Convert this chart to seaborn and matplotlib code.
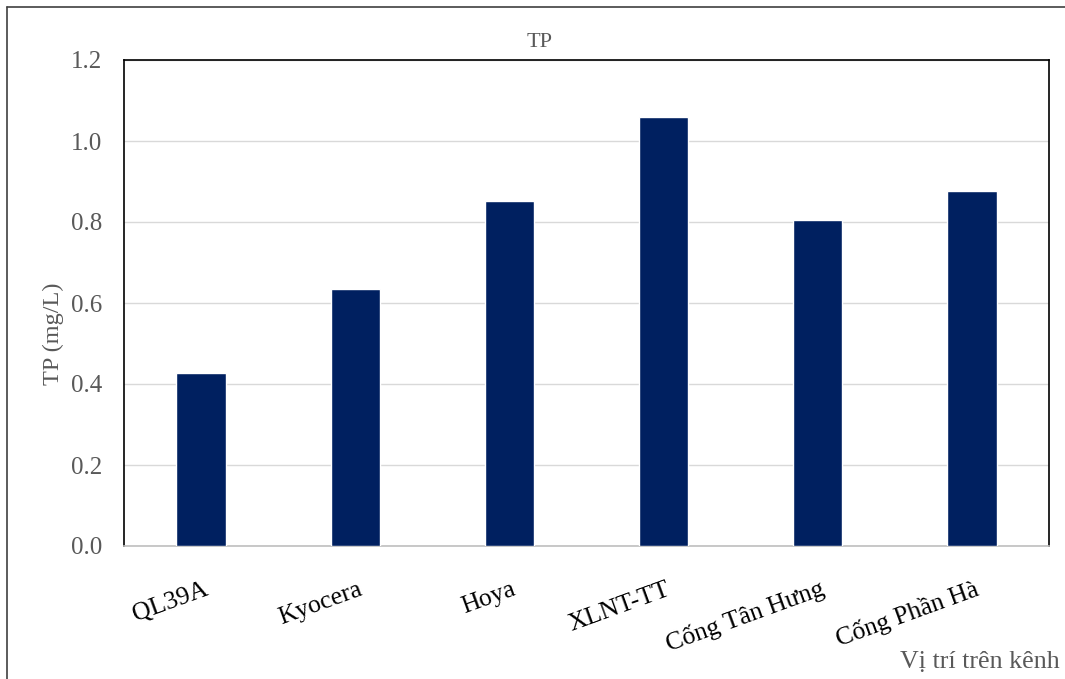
import matplotlib
matplotlib.use("Agg")
import matplotlib.pyplot as plt
import matplotlib.transforms as mtransforms
import seaborn as sns
import pandas as pd
from matplotlib.lines import Line2D

# Total phosphorus measured at each sampling site along the canal
sites = ["QL39A", "Kyocera", "Hoya", "XLNT-TT", "Cống Tân Hưng", "Cống Phần Hà"]
tp_values = [0.427, 0.635, 0.852, 1.059, 0.805, 0.877]
y_ticks = [0.0, 0.2, 0.4, 0.6, 0.8, 1.0, 1.2]

df = pd.DataFrame({"site": sites, "tp": tp_values})

sns.set_theme(style="white")
plt.rcParams["font.family"] = ["Liberation Serif", "DejaVu Serif"]

gray_text = "#595959"
bar_color = "#002060"

W, H = 1065, 679
fig = plt.figure(figsize=(W / 100, H / 100), dpi=100)
ax = fig.add_axes([124 / W, 1 - 546 / H, (1049 - 124) / W, (546 - 60) / H])

sns.barplot(data=df, x="site", y="tp", color=bar_color, width=0.32,
            saturation=1, ax=ax, zorder=3)

ax.set_xlim(-0.5, len(sites) - 0.5)
ax.set_ylim(0, 1.2)
ax.set_yticks(y_ticks)
ax.set_yticklabels([f"{v:.1f}" for v in y_ticks], color=gray_text, fontsize=18)
ax.yaxis.grid(True, color="#D9D9D9", linewidth=1, zorder=0)
ax.tick_params(axis="y", length=0, pad=15.5)
ax.tick_params(axis="x", length=0, pad=35)

ax.set_xticks(range(len(sites)))
ax.set_xticklabels(sites, rotation=20, ha="right", va="baseline",
                   rotation_mode="anchor", fontsize=18.5, color="black")
# nudge the rotated category labels a little to the right
shift = mtransforms.ScaledTranslation(8 / 100, 0, fig.dpi_scale_trans)
for lbl in ax.get_xticklabels():
    lbl.set_transform(lbl.get_transform() + shift)

for side in ["left", "top", "right"]:
    ax.spines[side].set_color("black")
    ax.spines[side].set_linewidth(1.2)
ax.spines["bottom"].set_color("#BFBFBF")
ax.spines["bottom"].set_linewidth(1.2)

ax.set_xlabel("")
ax.set_ylabel("TP (mg/L)", color=gray_text, fontsize=17.5)
ax.yaxis.set_label_coords((64 - 124) / (1049 - 124), (546 - 334) / (546 - 60))

fig.text(540 / W, 1 - 47 / H, "TP", ha="center", va="baseline",
         color=gray_text, fontsize=16)
fig.text(1060 / W, 1 - 668 / H, "Vị trí trên kênh", ha="right", va="baseline",
         color=gray_text, fontsize=18.7)

# Outer chart-area frame (left and top edges)
fig.add_artist(Line2D([7 / W, 7 / W], [0, 1 - 7 / H],
                      transform=fig.transFigure, color="#404040", linewidth=1.2))
fig.add_artist(Line2D([7 / W, 1], [1 - 7 / H, 1 - 7 / H],
                      transform=fig.transFigure, color="#404040", linewidth=1.2))

fig.savefig("out.png", dpi=100)
